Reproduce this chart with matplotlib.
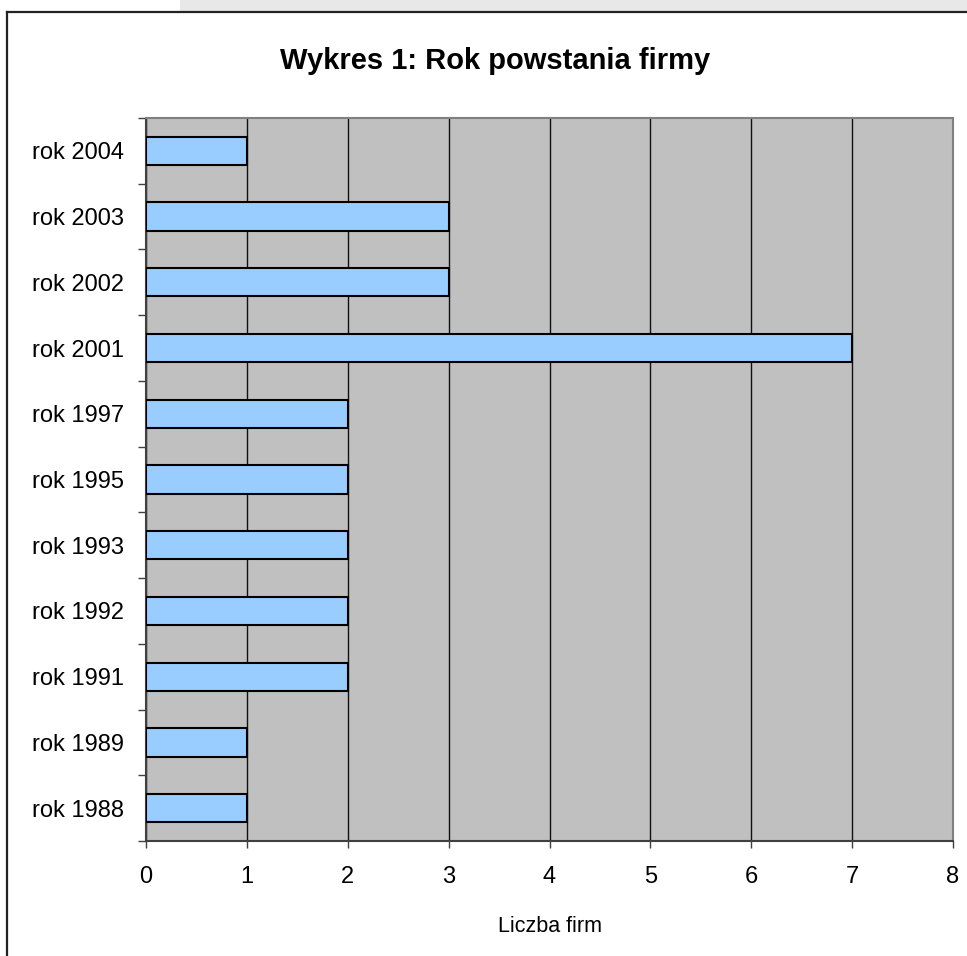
import numpy as np
import matplotlib.pyplot as plt
from matplotlib.patches import Rectangle
from matplotlib.lines import Line2D

plt.rcParams['font.family'] = ['Liberation Sans', 'DejaVu Sans']

# dane z wykresu (od dołu do góry)
years = ['rok 1988', 'rok 1989', 'rok 1991', 'rok 1992', 'rok 1993', 'rok 1995',
         'rok 1997', 'rok 2001', 'rok 2002', 'rok 2003', 'rok 2004']
counts = [1, 1, 2, 2, 2, 2, 2, 7, 3, 3, 1]
x_ticks = [0, 1, 2, 3, 4, 5, 6, 7, 8]

W, H = 967, 956
fig = plt.figure(figsize=(W / 100, H / 100), dpi=100)
fig.patch.set_facecolor('white')

# szary pasek u góry i ramka (zrzut ekranu z Excela)
fig.patches.append(Rectangle((180 / W, 1 - 12 / H), 1 - 180 / W, 12 / H,
                             transform=fig.transFigure, facecolor='#e8e8e8',
                             edgecolor='none', zorder=0))
fig.lines.append(Line2D([7 / W, 1], [1 - 12 / H, 1 - 12 / H], transform=fig.transFigure,
                        color='#222222', lw=1.6))
fig.lines.append(Line2D([7 / W, 7 / W], [0, 1 - 12 / H], transform=fig.transFigure,
                        color='#222222', lw=1.6))

ax = fig.add_axes([146 / W, 1 - 841 / H, (953 - 146) / W, (841 - 118) / H])
ax.set_facecolor('#c0c0c0')

y = np.arange(len(years))
ax.barh(y, counts, height=0.43, color='#99ccff', edgecolor='black', linewidth=1.5, zorder=3)

ax.set_xlim(0, 8)
ax.set_ylim(-0.5, len(years) - 0.5)
ax.set_xticks(x_ticks)
ax.set_xticklabels([str(v) for v in x_ticks], fontsize=17)
ax.tick_params(axis='x', length=5, width=1, color='#404040', pad=13)

# znaczniki na granicach kategorii, etykiety w środku
ax.set_yticks(np.arange(-0.5, len(years), 1.0))
ax.set_yticklabels([])
ax.tick_params(axis='y', which='major', length=6, width=1, color='#404040')
ax.set_yticks(y, minor=True)
ax.set_yticklabels(years, minor=True, fontsize=17)
ax.tick_params(axis='y', which='minor', length=0, pad=16)

ax.grid(axis='x', color='#111111', linewidth=1, zorder=1)
ax.set_axisbelow(True)

ax.spines['left'].set_color('#404040')
ax.spines['bottom'].set_color('#404040')
ax.spines['top'].set_color('#808080')
ax.spines['right'].set_color('#808080')
for s in ax.spines.values():
    s.set_linewidth(1.5)

ax.set_xlabel('Liczba firm', fontsize=15.5, labelpad=20)

fig.text(495 / W, 1 - 61 / H, 'Wykres 1: Rok powstania firmy', fontsize=21,
         fontweight='bold', ha='center', va='center')

fig.savefig('out.png', dpi=100)
